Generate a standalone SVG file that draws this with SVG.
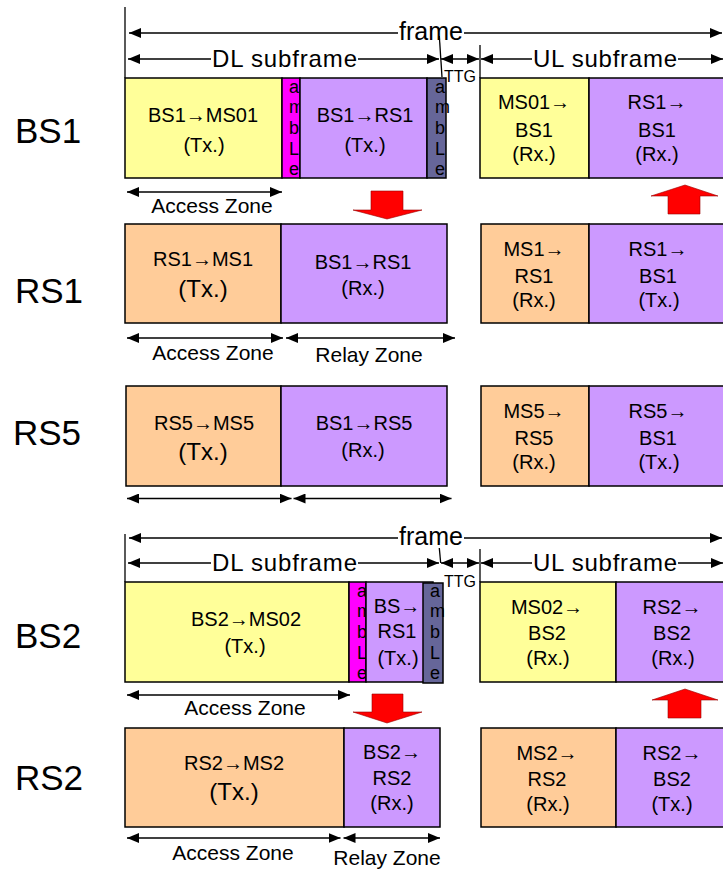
<svg xmlns="http://www.w3.org/2000/svg" width="723" height="869" viewBox="0 0 723 869">
<style>
text{font-family:"Liberation Sans",Arial,sans-serif;fill:#000}
.lbl{font-size:35px}
.t{font-size:20px;text-anchor:middle}
.tb{font-size:24px;text-anchor:middle}
.z{font-size:21px;text-anchor:middle}
.h{font-size:24px;text-anchor:middle}
.ttg{font-size:16px;text-anchor:middle}
.pa{font-size:18px}
.box{stroke:#000;stroke-width:1.5}
.y{fill:#FFFF99}.o{fill:#FFCC99}.p{fill:#CC99FF}.m{fill:#FF00FF}.s{fill:#666699}
.ln{stroke:#000;stroke-width:1.3;fill:none}
.ar{stroke:#000;stroke-width:1.3;fill:none;marker-end:url(#ah)}
.al{stroke:#000;stroke-width:1.3;fill:none;marker-start:url(#ah)}
.ab{stroke:#000;stroke-width:1.3;fill:none;marker-start:url(#ah);marker-end:url(#ah)}
.red{fill:#FF0000;stroke:#990000;stroke-width:0.6}
</style>
<defs>
<marker id="ah" viewBox="0 0 12 10" refX="12" refY="5" markerWidth="12" markerHeight="10" markerUnits="userSpaceOnUse" orient="auto-start-reverse"><path d="M0,0 L12,5 L0,10 z" fill="#000"/></marker>
</defs>

<g id="labels">
<text class="lbl" x="15" y="143">BS1</text>
<text class="lbl" x="15" y="303">RS1</text>
<text class="lbl" x="13" y="445">RS5</text>
<text class="lbl" x="15" y="648">BS2</text>
<text class="lbl" x="15" y="790">RS2</text>
</g>

<g id="bs1-dl-access">
<rect class="box y" x="125" y="78" width="157" height="100"/>
<text class="t" x="203" y="122">BS1→MS01</text>
<text class="t" x="204" y="152">(Tx.)</text>
</g>
<g id="bs1-preamble1">
<rect class="box m" x="282" y="78" width="18" height="100"/>
<text class="pa" x="289" y="93">a</text><text class="pa" x="289" y="113">m</text><text class="pa" x="289" y="134">b</text><text class="pa" x="289" y="155">L</text><text class="pa" x="289" y="175">e</text>
</g>
<g id="bs1-dl-relay">
<rect class="box p" x="300" y="78" width="127" height="100"/>
<text class="t" x="365" y="122">BS1→RS1</text>
<text class="t" x="365" y="152">(Tx.)</text>
</g>
<g id="bs1-preamble2">
<rect class="box s" x="427" y="78" width="19" height="100"/>
<text class="pa" x="435" y="93">a</text><text class="pa" x="435" y="113">m</text><text class="pa" x="435" y="134">b</text><text class="pa" x="435" y="155">L</text><text class="pa" x="435" y="175">e</text>
</g>
<g id="bs1-ul-access">
<rect class="box y" x="480" y="78" width="109" height="100"/>
<text class="t" x="534" y="109">MS01→</text>
<text class="t" x="534" y="137">BS1</text>
<text class="t" x="534" y="161">(Rx.)</text>
</g>
<g id="bs1-ul-relay">
<rect class="box p" x="589" y="78" width="145" height="100"/>
<text class="t" x="657" y="109">RS1→</text>
<text class="t" x="657" y="137">BS1</text>
<text class="t" x="657" y="161">(Rx.)</text>
</g>

<g id="rs1-dl-access">
<rect class="box o" x="125" y="224" width="156" height="99"/>
<text class="t" x="203" y="266">RS1→MS1</text>
<text class="tb" x="203" y="297">(Tx.)</text>
</g>
<g id="rs1-dl-relay">
<rect class="box p" x="281" y="224" width="166" height="99"/>
<text class="t" x="363" y="269">BS1→RS1</text>
<text class="t" x="363" y="295">(Rx.)</text>
</g>
<g id="rs1-ul-access">
<rect class="box o" x="481" y="224" width="108" height="99"/>
<text class="t" x="534" y="256">MS1→</text>
<text class="t" x="534" y="283">RS1</text>
<text class="t" x="534" y="307">(Rx.)</text>
</g>
<g id="rs1-ul-relay">
<rect class="box p" x="589" y="224" width="145" height="99"/>
<text class="t" x="658" y="256">RS1→</text>
<text class="t" x="658" y="283">BS1</text>
<text class="t" x="659" y="307">(Tx.)</text>
</g>

<g id="rs5-dl-access">
<rect class="box o" x="126" y="386" width="155" height="100"/>
<text class="t" x="204" y="430">RS5→MS5</text>
<text class="tb" x="203" y="460">(Tx.)</text>
</g>
<g id="rs5-dl-relay">
<rect class="box p" x="281" y="386" width="166" height="100"/>
<text class="t" x="364" y="430">BS1→RS5</text>
<text class="t" x="363" y="457">(Rx.)</text>
</g>
<g id="rs5-ul-access">
<rect class="box o" x="481" y="386" width="108" height="100"/>
<text class="t" x="534" y="418">MS5→</text>
<text class="t" x="534" y="445">RS5</text>
<text class="t" x="534" y="469">(Rx.)</text>
</g>
<g id="rs5-ul-relay">
<rect class="box p" x="589" y="386" width="145" height="100"/>
<text class="t" x="658" y="418">RS5→</text>
<text class="t" x="658" y="445">BS1</text>
<text class="t" x="659" y="469">(Tx.)</text>
</g>

<g id="bs2-dl-access">
<rect class="box y" x="125" y="582" width="224" height="100"/>
<text class="t" x="246" y="626">BS2→MS02</text>
<text class="t" x="245" y="653">(Tx.)</text>
</g>
<g id="bs2-preamble1">
<rect class="box m" x="349" y="582" width="17" height="100"/>
<text class="pa" x="357" y="597">a</text><text class="pa" x="357" y="617">m</text><text class="pa" x="357" y="638">b</text><text class="pa" x="357" y="659">L</text><text class="pa" x="357" y="679">e</text>
</g>
<g id="bs2-dl-relay">
<rect class="box p" x="366" y="582" width="67" height="100"/>
<text class="t" x="397" y="613">BS→</text>
<text class="t" x="397" y="638">RS1</text>
<text class="t" x="398" y="665">(Tx.)</text>
</g>
<g id="bs2-preamble2">
<rect class="box s" x="423" y="583" width="20" height="100"/>
<text class="pa" x="430" y="597">a</text><text class="pa" x="430" y="617">m</text><text class="pa" x="430" y="638">b</text><text class="pa" x="430" y="659">L</text><text class="pa" x="430" y="679">e</text>
</g>
<g id="bs2-ul-access">
<rect class="box y" x="480" y="582" width="136" height="100"/>
<text class="t" x="547" y="614">MS02→</text>
<text class="t" x="547" y="640">BS2</text>
<text class="t" x="548" y="665">(Rx.)</text>
</g>
<g id="bs2-ul-relay">
<rect class="box p" x="616" y="582" width="118" height="100"/>
<text class="t" x="672" y="614">RS2→</text>
<text class="t" x="672" y="640">BS2</text>
<text class="t" x="673" y="665">(Rx.)</text>
</g>

<g id="rs2-dl-access">
<rect class="box o" x="125" y="728" width="219" height="99"/>
<text class="t" x="234" y="770">RS2→MS2</text>
<text class="tb" x="234" y="800">(Tx.)</text>
</g>
<g id="rs2-dl-relay">
<rect class="box p" x="344" y="728" width="96" height="99"/>
<text class="t" x="392" y="759">BS2→</text>
<text class="t" x="392" y="785">RS2</text>
<text class="t" x="392" y="810">(Rx.)</text>
</g>
<g id="rs2-ul-access">
<rect class="box o" x="481" y="728" width="135" height="99"/>
<text class="t" x="547" y="760">MS2→</text>
<text class="t" x="547" y="786">RS2</text>
<text class="t" x="548" y="811">(Rx.)</text>
</g>
<g id="rs2-ul-relay">
<rect class="box p" x="616" y="728" width="118" height="99"/>
<text class="t" x="672" y="760">RS2→</text>
<text class="t" x="672" y="786">BS2</text>
<text class="t" x="672" y="811">(Tx.)</text>
</g>

<g id="header1">
<text class="h" x="431" y="40" style="font-size:25px">frame</text>
<text class="h" x="284.5" y="67" textLength="145">DL subframe</text>
<text class="h" x="605" y="67" textLength="144">UL subframe</text>
<text class="ttg" x="460" y="82">TTG</text>
</g>
<g id="header2">
<text class="h" x="431" y="545" style="font-size:25px">frame</text>
<text class="h" x="284.5" y="571" textLength="145">DL subframe</text>
<text class="h" x="605" y="571" textLength="144">UL subframe</text>
<text class="ttg" x="460" y="587">TTG</text>
</g>
<g id="zone-labels">
<text class="z" x="212" y="213">Access Zone</text>
<text class="z" x="213" y="360">Access Zone</text>
<text class="z" x="369" y="362">Relay Zone</text>
<text class="z" x="245" y="715">Access Zone</text>
<text class="z" x="233" y="860">Access Zone</text>
<text class="z" x="387" y="865">Relay Zone</text>
</g>

<g id="connectors">
<line class="ln" x1="125" y1="7" x2="125" y2="78"/>
<line class="al" x1="129" y1="33" x2="398" y2="33"/>
<line class="ar" x1="464" y1="33" x2="722" y2="33"/>
<line class="al" x1="128" y1="59" x2="211" y2="59"/>
<line class="ar" x1="358" y1="59" x2="439" y2="59"/>
<line class="ln" x1="439.3" y1="36" x2="442" y2="77"/>
<line class="ab" x1="441" y1="59" x2="479" y2="59"/>
<line class="ln" x1="480" y1="45" x2="480" y2="78"/>
<line class="al" x1="481" y1="59" x2="532" y2="59"/>
<line class="ar" x1="678" y1="59" x2="723" y2="59"/>
<line class="ln" x1="125" y1="534" x2="125" y2="582"/>
<line class="al" x1="129" y1="538" x2="398" y2="538"/>
<line class="ar" x1="464" y1="538" x2="722" y2="538"/>
<line class="al" x1="128" y1="563" x2="211" y2="563"/>
<line class="ar" x1="358" y1="563" x2="439" y2="563"/>
<line class="ln" x1="439.3" y1="548" x2="440.7" y2="563"/>
<line class="ab" x1="441" y1="563" x2="479" y2="563"/>
<line class="ln" x1="480" y1="549" x2="480" y2="582"/>
<line class="al" x1="481" y1="563" x2="532" y2="563"/>
<line class="ar" x1="678" y1="563" x2="723" y2="563"/>
<line class="ab" x1="127" y1="192" x2="282" y2="192"/>
<line class="ab" x1="127" y1="338" x2="283" y2="338"/>
<line class="ab" x1="286" y1="338" x2="455" y2="338"/>
<line class="ab" x1="127" y1="498.5" x2="291.5" y2="498.5"/>
<line class="ab" x1="293.5" y1="498.5" x2="451.5" y2="498.5"/>
<line class="ab" x1="127" y1="695" x2="350" y2="695"/>
<line class="ab" x1="127" y1="838" x2="340.5" y2="838"/>
<line class="ab" x1="343.5" y1="838" x2="440" y2="838"/>
<polygon class="red" points="371,191 403,191 403,210 422,210 387,219 353,210 371,210"/>
<polygon class="red" points="685,185 718,196 700,196 700,214 668,214 668,196 651,196"/>
<polygon class="red" points="372,694 403,694 403,712 422,712 387,723 353,712 372,712"/>
<polygon class="red" points="685,689 718,700 701,700 701,718 668,718 668,700 652,700"/>
</g>
</svg>
